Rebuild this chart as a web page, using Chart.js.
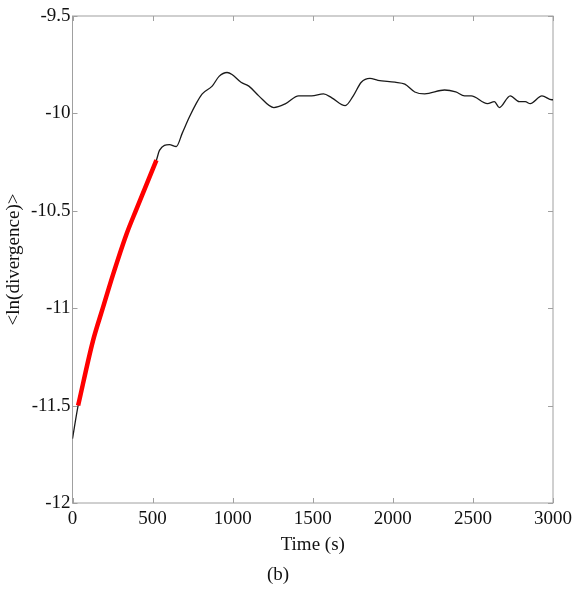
<!DOCTYPE html>
<html>
<head>
<meta charset="utf-8">
<script src="https://cdn.jsdelivr.net/npm/chart.js@4.4.1/dist/chart.umd.min.js"></script>
<style>
  html, body { margin: 0; padding: 0; background: #fff; }
  #wrap { width: 577px; height: 592px; }
</style>
</head>
<body>
<div id="wrap"><canvas id="chart" width="577" height="592"></canvas></div>
<script>
// full averaged curve (black)
const timeAll = [0, 35, 127, 189, 252, 337, 400, 524, 543, 605, 648, 686, 729, 772, 810, 872, 915, 965, 996,
    1052, 1101, 1163, 1257, 1331, 1412, 1493, 1567, 1619, 1703, 1753, 1803, 1857, 1907, 2013, 2075, 2137,
    2199, 2323, 2393, 2448, 2489, 2591, 2634, 2665, 2733, 2789, 2827, 2858, 2931, 2993, 3000];
const lnAll = [-11.67, -11.50, -11.17, -11.00, -10.83, -10.62, -10.49, -10.24, -10.19, -10.16, -10.17, -10.10,
    -10.02, -9.95, -9.90, -9.86, -9.81, -9.79, -9.80, -9.84, -9.86, -9.91, -9.97, -9.95, -9.91, -9.91, -9.90,
    -9.92, -9.96, -9.91, -9.84, -9.82, -9.83, -9.84, -9.85, -9.89, -9.90, -9.88, -9.89, -9.91, -9.91, -9.95,
    -9.94, -9.97, -9.91, -9.94, -9.94, -9.95, -9.91, -9.93, -9.93];

// linear fit region (red)
const timeFit = [35, 127, 189, 252, 337, 400, 524];
const lnFit = [-11.50, -11.17, -11.00, -10.83, -10.62, -10.49, -10.24];

const xTicks = [0, 500, 1000, 1500, 2000, 2500, 3000];
const yTicks = [-12, -11.5, -11, -10.5, -10, -9.5];

const toPts = (xs, ys) => xs.map((x, i) => ({ x: x, y: ys[i] }));

const FONT = 'Liberation Serif';
const AXIS_COLOR = '#a0a0a0';

// box around the plot + inward ticks on all four sides
const boxTicks = {
    id: 'boxTicks',
    beforeDatasetsDraw(chart) {
        const { ctx, chartArea: a, scales } = chart;
        const len = 5;
        ctx.save();
        ctx.strokeStyle = AXIS_COLOR;
        ctx.lineWidth = 1;
        ctx.strokeRect(a.left, a.top, a.right - a.left, a.bottom - a.top);
        ctx.beginPath();
        xTicks.forEach(v => {
            const px = Math.round(scales.x.getPixelForValue(v)) + 0.5;
            ctx.moveTo(px, a.bottom); ctx.lineTo(px, a.bottom - len);
            ctx.moveTo(px, a.top); ctx.lineTo(px, a.top + len);
        });
        yTicks.forEach(v => {
            const py = Math.round(scales.y.getPixelForValue(v)) + 0.5;
            ctx.moveTo(a.left, py); ctx.lineTo(a.left + len, py);
            ctx.moveTo(a.right, py); ctx.lineTo(a.right - len, py);
        });
        ctx.stroke();
        ctx.restore();
    }
};

new Chart(document.getElementById('chart'), {
    type: 'line',
    data: {
        datasets: [
            {
                label: 'fit',
                data: toPts(timeFit, lnFit),
                borderColor: '#ff0000',
                borderWidth: 4.5,
                pointRadius: 0,
                cubicInterpolationMode: 'monotone',
                order: 0
            },
            {
                label: 'mean',
                data: toPts(timeAll, lnAll),
                borderColor: '#1a1a1a',
                borderWidth: 1.3,
                pointRadius: 0,
                cubicInterpolationMode: 'monotone',
                order: 1
            }
        ]
    },
    options: {
        responsive: false,
        devicePixelRatio: 1,
        animation: false,
        layout: { padding: { left: 0, top: 16, right: 21, bottom: 0 } },
        plugins: {
            legend: { display: false },
            tooltip: { enabled: false },
            title: {
                display: true,
                position: 'bottom',
                text: '(b)',
                color: '#111',
                font: { family: FONT, size: 19, weight: 'normal' },
                padding: { top: 6, bottom: 5.6 }
            }
        },
        scales: {
            x: {
                type: 'linear',
                min: 0,
                max: 3000,
                afterBuildTicks: s => { s.ticks = xTicks.map(v => ({ value: v })); },
                afterFit: s => { s.height = 54.6; },
                grid: { display: false, drawTicks: false },
                border: { display: false },
                ticks: {
                    color: '#111',
                    padding: 5,
                    maxRotation: 0,
                    font: { family: FONT, size: 19 },
                    callback: v => String(v)
                },
                title: {
                    display: true,
                    text: 'Time (s)',
                    color: '#111',
                    font: { family: FONT, size: 19 },
                    padding: { top: 0, bottom: 1.2 }
                }
            },
            y: {
                min: -12,
                max: -9.5,
                afterBuildTicks: s => { s.ticks = yTicks.map(v => ({ value: v })); },
                afterFit: s => { s.width = 72.5; },
                grid: { display: false, drawTicks: false },
                border: { display: false },
                ticks: {
                    color: '#111',
                    padding: 2,
                    font: { family: FONT, size: 19 },
                    callback: v => String(v)
                },
                title: {
                    display: true,
                    text: '<ln(divergence)>',
                    color: '#111',
                    font: { family: FONT, size: 19 },
                    padding: { top: 2.6, bottom: 0 }
                }
            }
        }
    },
    plugins: [boxTicks]
});
</script>
</body>
</html>
